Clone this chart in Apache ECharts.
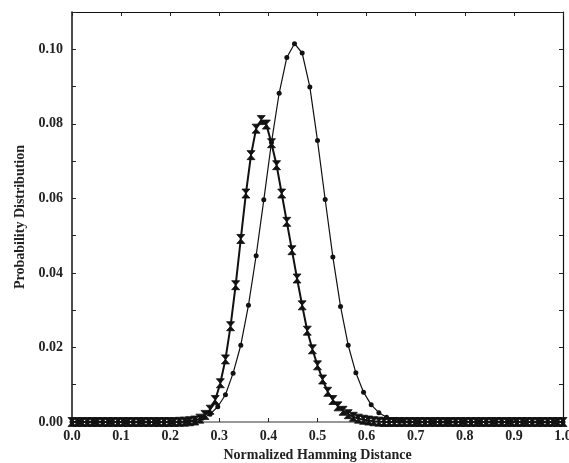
<!DOCTYPE html>
<html>
<head>
<meta charset="utf-8">
<script src="https://cdn.jsdelivr.net/npm/echarts@6/dist/echarts.min.js"></script>
<style>html,body{margin:0;padding:0;background:#fff}#c{width:569px;height:463px}</style>
</head>
<body>
<div id="c"></div>
<script>
// Series A (hourglass markers): distribution over 96-bit grid, k = 0..96
const binsA = 96;
const probA = [
  0,0,0,0,0,0,0,0,0,0,
  0,0,0,0,0,0,0,0,0,0,
  0,0.00005,0.0001,0.0002,0.0004,0.0009,0.0019,0.0033,0.0059,0.0104,
  0.0168,0.0257,0.0367,0.0491,0.0613,0.0716,0.0787,0.081,0.0798,0.0748,
  0.0689,0.0613,0.0537,0.0461,0.0385,0.0313,0.0245,0.0195,0.0152,0.0114,
  0.0081,0.0059,0.0042,0.003,0.0021,0.0014,0.0009,0.0006,0.0004,0.0002,
  0.0001,0,0,0,0,0,0,0,0,0,
  0,0,0,0,0,0,0,0,0,0,
  0,0,0,0,0,0,0,0,0,0,
  0,0,0,0,0,0,0
];
// Series B (dot markers): distribution over 64-bit grid, k = 0..64
const binsB = 64;
const probB = [
  0,0,0,0,0,0,0,0,0,0,
  0,0,0,0,0,0.00015,0.0004,0.001,0.0021,0.0041,
  0.0073,0.0131,0.0206,0.0313,0.0446,0.0596,0.075,0.0882,0.0978,0.1015,
  0.099,0.0899,0.0755,0.0597,0.0443,0.031,0.0206,0.0132,0.008,0.0046,
  0.0025,0.0013,0.0006,0.00025,0.0001,0,0,0,0,0,
  0,0,0,0,0,0,0,0,0,0,
  0,0,0,0,0
];
const xTickLabels = ['0.0','0.1','0.2','0.3','0.4','0.5','0.6','0.7','0.8','0.9','1.0'];
const yTickLabels = ['0.00','0.02','0.04','0.06','0.08','0.10'];
const xTitle = 'Normalized Hamming Distance';
const yTitle = 'Probability Distribution';

const dataA = probA.map((v, k) => [k / binsA, v]);
const dataB = probB.map((v, k) => [k / binsB, v]);

const font = {fontFamily: 'Liberation Serif', fontWeight: 'bold', fontSize: 14, color: '#222'};
const chart = echarts.init(document.getElementById('c'), null, {renderer: 'canvas'});
chart.setOption({
  animation: false,
  backgroundColor: '#fff',
  grid: {left: 72, right: 6, top: 12, bottom: 41, containLabel: false, outerBoundsMode: 'none'},
  xAxis: [{
    type: 'value', min: 0, max: 1, interval: 0.1, position: 'bottom',
    name: xTitle, nameLocation: 'middle', nameGap: 21, nameTextStyle: font,
    axisLine: {show: true, lineStyle: {color: '#777', width: 1.5}},
    axisTick: {show: true, inside: true, length: 4, lineStyle: {color: '#222'}},
    axisLabel: Object.assign({margin: 7, formatter: v => xTickLabels[Math.round(v * 10)] || ''}, font),
    splitLine: {show: false}
  }, {
    type: 'value', min: 0, max: 1, interval: 0.1, position: 'top',
    axisLine: {show: true, onZero: false, lineStyle: {color: '#111', width: 1.2}},
    axisTick: {show: true, inside: true, length: 4, lineStyle: {color: '#222'}},
    axisLabel: {show: false}, splitLine: {show: false}
  }],
  yAxis: [{
    type: 'value', min: 0, max: 0.11, interval: 0.01, position: 'left',
    name: yTitle, nameLocation: 'middle', nameGap: 44, nameTextStyle: font,
    axisLine: {show: true, lineStyle: {color: '#111', width: 1.5}},
    axisTick: {show: true, inside: true, length: 4, lineStyle: {color: '#222'}},
    axisLabel: Object.assign({margin: 9, formatter: v => {
      const i = Math.round(v * 100);
      return i % 2 === 0 ? (yTickLabels[i / 2] || '') : '';
    }}, font),
    splitLine: {show: false}
  }, {
    type: 'value', min: 0, max: 0.11, interval: 0.01, position: 'right',
    axisLine: {show: true, onZero: false, lineStyle: {color: '#111', width: 1.2}},
    axisTick: {show: true, inside: true, length: 4, lineStyle: {color: '#222'}},
    axisLabel: {show: false}, splitLine: {show: false}
  }],
  series: [{
    type: 'line', data: dataB, xAxisIndex: 0, yAxisIndex: 0,
    symbol: 'circle', symbolSize: 5, showAllSymbol: true,
    lineStyle: {color: '#111', width: 1.2}, itemStyle: {color: '#111'}, z: 3
  }, {
    type: 'line', data: dataA, xAxisIndex: 0, yAxisIndex: 0,
    symbol: 'path://M0,0L10,0L5,5L10,10L0,10L5,5Z', symbolSize: [8, 9], showAllSymbol: true,
    lineStyle: {color: '#111', width: 2},
    itemStyle: {color: '#111', borderColor: '#111', borderWidth: 0.8}, z: 4
  }]
});
</script>
</body>
</html>
